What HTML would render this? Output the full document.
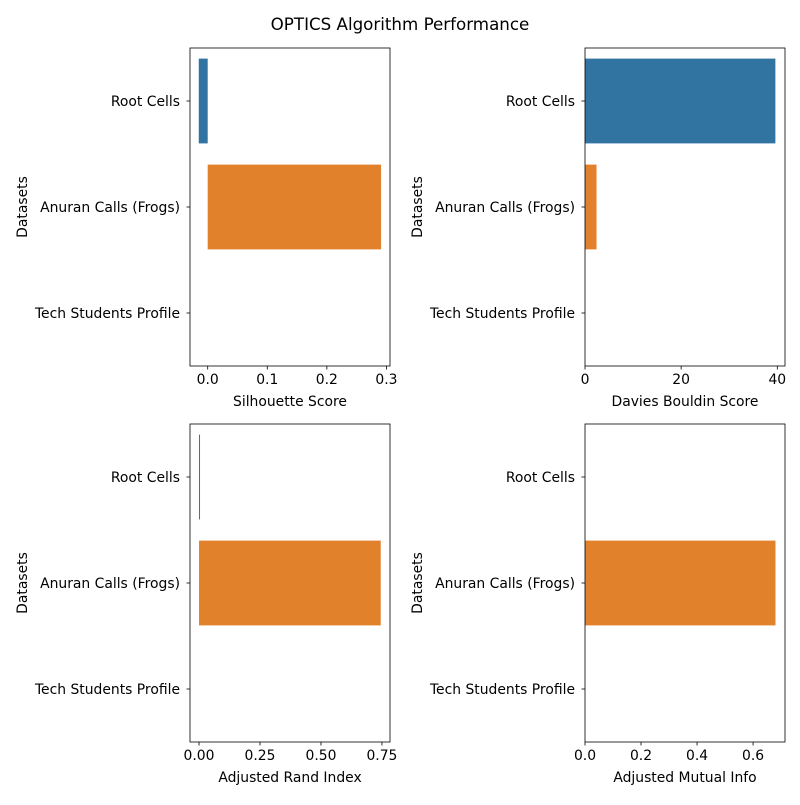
<!DOCTYPE html>
<html><head><meta charset="utf-8"><style>body{margin:0;background:#fff}svg{font-family:"DejaVu Sans","Liberation Sans",sans-serif}</style></head>
<body>
<svg id="c" width="800" height="800"></svg>
<script>
const categories = ["Root Cells","Anuran Calls (Frogs)","Tech Students Profile"];
const silhouette = [-0.015, 0.291, null];
const davies = [39.6, 2.4, null];
const ari = [0.002, 0.745, null];
const ami = [null, 0.68, null];
const silTicks = [0.0,0.1,0.2,0.3], silLabels=["0.0","0.1","0.2","0.3"];
const dbTicks = [0,20,40], dbLabels=["0","20","40"];
const ariTicks=[0,0.25,0.5,0.75], ariLabels=["0.00","0.25","0.50","0.75"];
const amiTicks=[0,0.2,0.4,0.6], amiLabels=["0.0","0.2","0.4","0.6"];
const colors=["#3274a1","#e1812c","#3a923a"];
const ns="http://www.w3.org/2000/svg", svg=document.getElementById('c');
function el(t,a,p){const e=document.createElementNS(ns,t);for(const k in a)e.setAttribute(k,a[k]);(p||svg).appendChild(e);return e;}
const t=el('text',{x:400,y:30,'text-anchor':'middle','font-size':16.7,fill:'#000'});t.textContent="OPTICS Algorithm Performance";


function panel(name,x0,y0,vals,xmin,xmax,ticks,labels,xlabel){
  const w=200,h=318;
  const g=el('g',{});
  
  
  const sx=v=>x0+(v-xmin)/(xmax-xmin)*w;
  const sy=i=>y0+(i+0.5)/3*h;
  vals.forEach((v,i)=>{ if(v===null)return;
    const a=sx(Math.min(0,v)),b=sx(Math.max(0,v));
    const r=el('rect',{x:a,y:sy(i)-0.4*h/3,width:Math.max(b-a,1),height:0.8*h/3,fill:colors[i]},g);
    
    
  });
  el('rect',{x:x0,y:y0,width:w,height:h,fill:'none',stroke:'#000','stroke-width':0.8},g);
  ticks.forEach((v,i)=>{const x=sx(v);el('line',{x1:x,x2:x,y1:y0+h,y2:y0+h+3.5,stroke:'#000','stroke-width':0.8},g);
    const tt=el('text',{x:x,y:y0+h+18,'text-anchor':'middle','font-size':13.9},g);tt.textContent=labels[i];
    
    });
  categories.forEach((c,i)=>{const y=sy(i);el('line',{x1:x0-3.5,x2:x0,y1:y,y2:y,stroke:'#000','stroke-width':0.8},g);
    const tt=el('text',{x:x0-10,y:y+5,'text-anchor':'end','font-size':13.9},g);tt.textContent=c;
    
    });
  const xl=el('text',{x:x0+w/2,y:y0+h+40,'text-anchor':'middle','font-size':13.9},g);xl.textContent=xlabel;
  
  
  const yl=el('text',{x:0,y:0,'text-anchor':'middle','font-size':13.9,transform:`translate(${x0-163},${y0+h/2}) rotate(-90)`},g);yl.textContent="Datasets";
  
  
}
panel('silhouette',190,48,silhouette,-0.0297,0.306,silTicks,silLabels,"Silhouette Score");
panel('davies',585,48,davies,0,41.6,dbTicks,dbLabels,"Davies Bouldin Score");
panel('ari',190,424,ari,-0.037,0.783,ariTicks,ariLabels,"Adjusted Rand Index");
panel('ami',585,424,ami,0,0.714,amiTicks,amiLabels,"Adjusted Mutual Info");
</script>
</body></html>
